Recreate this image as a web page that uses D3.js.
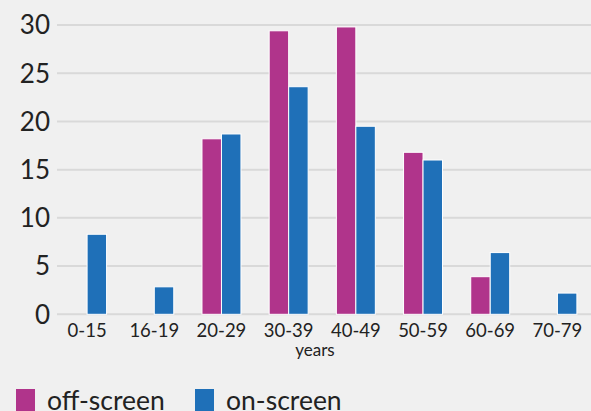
<!DOCTYPE html>
<html lang="en">
  <head>
    <meta charset="UTF-8" />
    <title>Age groups</title>
    <style>
      body { margin: 0; background: #f0f0f0; }
      svg { display: block; font-family: Lato, sans-serif; }
    </style>
  </head>
  <body>
    <script src="https://cdn.jsdelivr.net/npm/d3@7"></script>
    <script>
      // data
      var ageGroups = ["0-15", "16-19", "20-29", "30-39", "40-49", "50-59", "60-69", "70-79"];
      var seriesNames = ["off-screen", "on-screen"];
      var offScreen = [0, 0, 18.2, 29.4, 29.8, 16.8, 3.9, 0];
      var onScreen = [8.3, 2.85, 18.7, 23.6, 19.5, 16.0, 6.4, 2.2];
      var yTicks = [0, 5, 10, 15, 20, 25, 30];
      var colors = ["#b0348b", "#1f70b8"];

      var w = 591, h = 411;
      var rows = ageGroups.map(function(g, i) {
        return { group: g, values: [offScreen[i], onScreen[i]] };
      });

      var svg = d3.select("body").append("svg")
        .attr("width", w)
        .attr("height", h);

      svg.append("rect").attr("width", w).attr("height", h).attr("fill", "#f0f0f0");

      var x0 = d3.scaleBand()
        .domain(ageGroups)
        .range([53.5, 591])
        .paddingInner(0.42)
        .paddingOuter(0.21);

      var x1 = d3.scaleBand()
        .domain(seriesNames)
        .range([0, x0.bandwidth()]);

      var y = d3.scaleLinear()
        .domain([0, 30])
        .range([314.3, 25]);

      // gridlines
      svg.append("g")
        .selectAll("line")
        .data(yTicks)
        .enter()
        .append("line")
        .attr("x1", 57)
        .attr("x2", w)
        .attr("y1", function(d) { return y(d); })
        .attr("y2", function(d) { return y(d); })
        .attr("stroke", "#d9d9d9")
        .attr("stroke-width", 2);

      // y labels
      svg.append("g")
        .selectAll("text")
        .data(yTicks)
        .enter()
        .append("text")
        .attr("x", 50)
        .attr("y", function(d) { return y(d); })
        .attr("dy", "0.36em")
        .attr("text-anchor", "end")
        .attr("font-size", 26)
        .attr("fill", "#222")
        .text(function(d) { return d; });

      // bars
      var groups = svg.append("g")
        .selectAll("g")
        .data(rows)
        .enter()
        .append("g")
        .attr("transform", function(d) { return "translate(" + x0(d.group) + ",0)"; });

      groups.selectAll("rect")
        .data(function(d) { return d.values.map(function(v, i) { return { key: seriesNames[i], value: v, i: i }; }); })
        .enter()
        .filter(function(d) { return d.value > 0; })
        .append("rect")
        .attr("x", function(d) { return x1(d.key); })
        .attr("y", function(d) { return y(d.value); })
        .attr("width", x1.bandwidth())
        .attr("height", function(d) { return y(0) - y(d.value); })
        .attr("fill", function(d) { return colors[d.i]; })
        .attr("stroke", "#fff")
        .attr("stroke-width", 1);

      // x axis labels
      svg.append("g")
        .selectAll("text")
        .data(ageGroups)
        .enter()
        .append("text")
        .attr("x", function(d) { return x0(d) + x0.bandwidth() / 2; })
        .attr("y", 337)
        .attr("text-anchor", "middle")
        .attr("font-size", 18.5)
        .attr("fill", "#222")
        .text(function(d) { return d; });

      svg.append("text")
        .attr("x", 315)
        .attr("y", 356)
        .attr("text-anchor", "middle")
        .attr("font-size", 17)
        .attr("fill", "#222")
        .text("years");

      // legend
      var legendX = [16, 195];
      var legend = svg.append("g")
        .selectAll("g")
        .data(seriesNames)
        .enter()
        .append("g")
        .attr("transform", function(d, i) { return "translate(" + legendX[i] + ",389)"; });

      legend.append("rect")
        .attr("width", 19)
        .attr("height", 22)
        .attr("fill", function(d, i) { return colors[i]; });

      legend.append("text")
        .attr("x", 31)
        .attr("y", 21)
        .attr("font-size", 26.5)
        .attr("fill", "#222")
        .text(function(d) { return d; });
    </script>
  </body>
</html>
